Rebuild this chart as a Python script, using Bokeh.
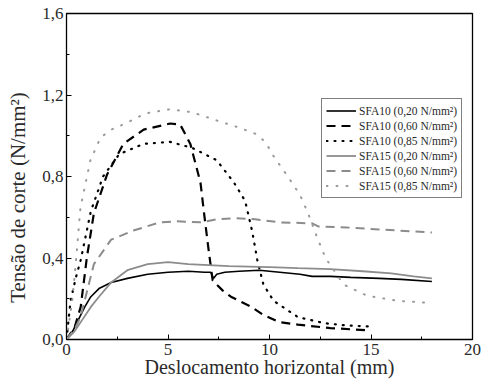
from bokeh.plotting import figure
from bokeh.models import FixedTicker, Legend, LegendItem
from bokeh.embed import file_html
from bokeh.resources import INLINE

# ---- data ----
x_a1 = [0, 0.3, 0.6, 0.9, 1.2, 1.6, 2.2, 3.0, 4.0, 5.0, 6.0, 6.8, 7.1, 7.25, 7.4, 7.8, 8.5, 9.5, 10.5, 11.5, 12.1, 13.0, 14.0, 15.4, 16.5, 18.0]
y_a1 = [0, 0.04, 0.10, 0.16, 0.21, 0.25, 0.28, 0.30, 0.32, 0.33, 0.335, 0.33, 0.33, 0.30, 0.32, 0.33, 0.335, 0.34, 0.33, 0.32, 0.31, 0.31, 0.305, 0.30, 0.295, 0.285]

x_a2 = [0, 0.4, 0.7, 1.0, 1.35, 2.0, 2.8, 3.8, 5.1, 5.6, 6.1, 6.6, 6.8, 7.0, 7.2, 7.7, 8.1, 8.5, 9.1, 9.7, 10.5, 11.4, 13.0, 14.9, 15.0]
y_a2 = [0, 0.06, 0.16, 0.40, 0.62, 0.81, 0.96, 1.03, 1.06, 1.055, 0.96, 0.77, 0.60, 0.44, 0.29, 0.24, 0.21, 0.19, 0.16, 0.12, 0.085, 0.073, 0.056, 0.045, 0.045]

x_a3 = [0, 0.2, 0.45, 0.7, 1.2, 1.8, 2.6, 3.8, 5.1, 6.2, 7.4, 8.25, 8.8, 9.15, 9.4, 9.7, 10.2, 11.4, 12.7, 13.8, 14.9]
y_a3 = [0, 0.19, 0.30, 0.39, 0.63, 0.80, 0.91, 0.96, 0.97, 0.94, 0.88, 0.77, 0.68, 0.53, 0.39, 0.27, 0.19, 0.11, 0.08, 0.069, 0.064]

x_b1 = [0, 0.4, 0.8, 1.2, 1.6, 2.2, 3.0, 4.0, 5.0, 6.0, 8.0, 10.0, 11.4, 13.0, 14.6, 16.0, 17.1, 18.0]
y_b1 = [0, 0.04, 0.10, 0.16, 0.21, 0.28, 0.34, 0.37, 0.38, 0.37, 0.36, 0.355, 0.35, 0.345, 0.335, 0.325, 0.31, 0.30]

x_b2 = [0, 0.4, 0.69, 1.02, 1.35, 2.2, 3.3, 4.6, 5.4, 6.6, 7.4, 8.3, 9.3, 10.5, 12.1, 12.4, 13.8, 15.4, 18.0]
y_b2 = [0, 0.05, 0.11, 0.24, 0.37, 0.49, 0.535, 0.575, 0.58, 0.575, 0.59, 0.595, 0.59, 0.575, 0.57, 0.555, 0.55, 0.54, 0.525]

x_b3 = [0, 0.15, 0.28, 0.44, 0.69, 1.18, 1.67, 2.2, 2.9, 3.9, 5.1, 6.2, 7.4, 8.5, 9.3, 9.8, 10.2, 10.9, 11.5, 11.9, 12.35, 12.76, 13.65, 14.8, 16.3, 17.9]
y_b3 = [0, 0.10, 0.19, 0.355, 0.65, 0.88, 0.99, 1.03, 1.06, 1.11, 1.13, 1.115, 1.075, 1.04, 1.01, 0.97, 0.90, 0.80, 0.71, 0.62, 0.50, 0.40, 0.27, 0.215, 0.19, 0.18]

labels = ["SFA10 (0,20 N/mm²)", "SFA10 (0,60 N/mm²)", "SFA10 (0,85 N/mm²)",
          "SFA15 (0,20 N/mm²)", "SFA15 (0,60 N/mm²)", "SFA15 (0,85 N/mm²)"]

x_ticks = [0, 5, 10, 15, 20]
x_minor = [2.5, 7.5, 12.5, 17.5]
y_ticks = [0.0, 0.4, 0.8, 1.2, 1.6]
y_minor = [0.2, 0.6, 1.0, 1.4]
y_tick_labels = ["0,0", "0,4", "0,8", "1,2", "1,6"]

FONT = "Liberation Serif"

p = figure(frame_width=406, frame_height=326, x_range=(0, 20), y_range=(0, 1.6),
           output_backend="svg", toolbar_location=None,
           min_border_left=66, min_border_right=9, min_border_top=13, min_border_bottom=40)
p.grid.visible = False
p.outline_line_color = "black"
p.outline_line_width = 1.3
p.background_fill_color = "white"
p.border_fill_color = "white"

p.xaxis.ticker = FixedTicker(ticks=x_ticks, minor_ticks=x_minor)
p.yaxis.ticker = FixedTicker(ticks=y_ticks, minor_ticks=y_minor)
p.yaxis.major_label_overrides = {t: l for t, l in zip(y_ticks, y_tick_labels)}
for ax in (p.xaxis[0], p.yaxis[0]):
    ax.major_tick_in = 5
    ax.major_tick_out = 0
    ax.minor_tick_in = 3
    ax.minor_tick_out = 0
    ax.axis_line_color = "black"
    ax.major_label_text_font = FONT
    ax.major_label_text_font_size = "17px"
    ax.major_label_text_color = "#2a2a2a"
    ax.axis_label_text_font = FONT
    ax.axis_label_text_font_style = "normal"
    ax.axis_label_text_color = "#2a2a2a"
p.xaxis.axis_label = "Deslocamento horizontal (mm)"
# trailing no-break spaces move the visible label down, as in the reference
p.yaxis.axis_label = "Tensão de corte (N/mm²)" + "\u00a0" * 8
p.xaxis.axis_label_text_font_size = "20px"
p.yaxis.axis_label_text_font_size = "21px"
p.xaxis.major_label_standoff = 4
p.xaxis.axis_label_standoff = -2
p.yaxis.major_label_standoff = 3
p.yaxis.axis_label_standoff = 9

r1 = p.line(x_a1, y_a1, line_color="black", line_width=1.6)
r2 = p.line(x_a2, y_a2, line_color="black", line_width=2.2, line_dash="9 6")
r3 = p.line(x_a3, y_a3, line_color="black", line_width=2.2, line_dash="1 7", line_cap="round")
r4 = p.line(x_b1, y_b1, line_color="#8c8c8c", line_width=1.8)
r5 = p.line(x_b2, y_b2, line_color="#8c8c8c", line_width=2.0, line_dash="9 6")
r6 = p.line(x_b3, y_b3, line_color="#9a9a9a", line_width=2.0, line_dash="1 9", line_cap="round")

legend = Legend(items=[LegendItem(label=l, renderers=[r]) for l, r in
                       zip(labels, [r1, r2, r3, r4, r5, r6])],
                location=(255, 141))
legend.label_text_font = FONT
legend.label_text_font_size = "11.5px"
legend.label_text_color = "#2a2a2a"
legend.glyph_width = 30
legend.glyph_height = 15
legend.label_height = 15
legend.label_standoff = 3
legend.spacing = 0
legend.padding = 4
legend.margin = 0
legend.border_line_color = "black"
legend.border_line_width = 1
legend.background_fill_alpha = 1
p.add_layout(legend, "center")

open("out.html", "w").write(file_html(p, INLINE))
